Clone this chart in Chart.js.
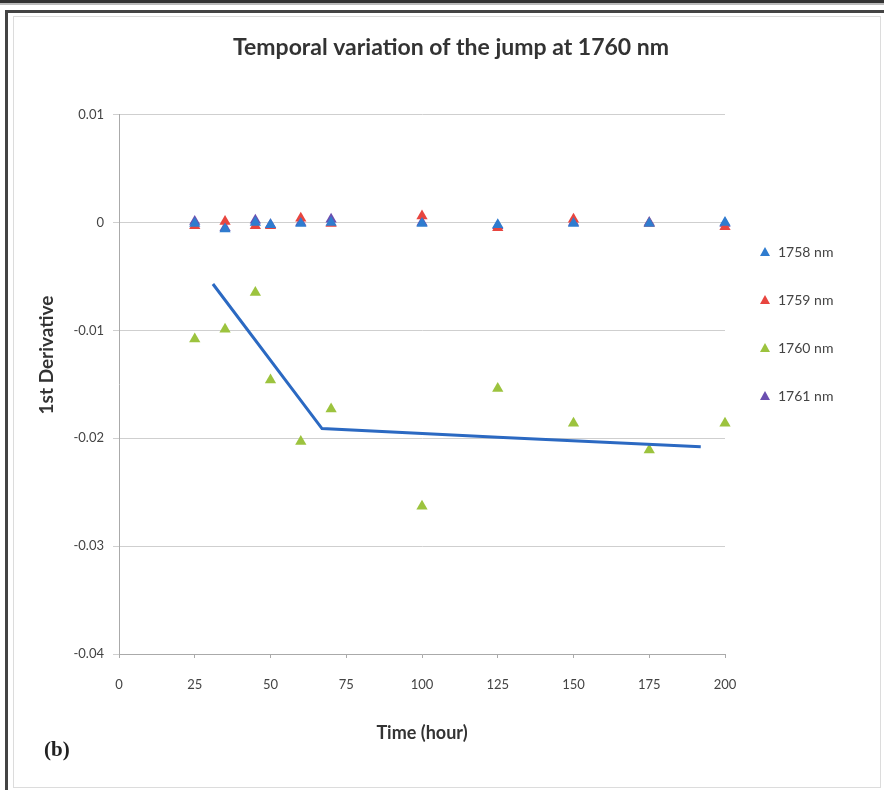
<!DOCTYPE html>
<html>
<head>
<meta charset="utf-8">
<script src="https://cdn.jsdelivr.net/npm/chart.js@4.4.0/dist/chart.umd.min.js"></script>
<style>
    body { margin: 0; background: #fff; }
    #wrap { position: relative; width: 884px; height: 790px; overflow: hidden; }
    .rule { position: absolute; }
    #tag { position: absolute; left: 44px; top: 738px; font: bold 21px 'Liberation Serif', serif; line-height: 22px; color: #222; }
</style>
</head>
<body>
<div id="wrap">
    <div class="rule" style="left:0;top:0;width:884px;height:3px;background:#333"></div>
    <div class="rule" style="left:0;top:3px;width:884px;height:2px;background:#bbb"></div>
    <div class="rule" style="left:5px;top:10px;width:879px;height:3px;background:#444"></div>
    <div class="rule" style="left:5px;top:10px;width:3px;height:780px;background:#444"></div>
    <div class="rule" style="left:13px;top:16px;width:866px;height:770px;border:1px solid #dcdcdc"></div>
    <canvas id="chart" width="884" height="790" style="position:absolute;left:0;top:0"></canvas>
    <div id="tag">(b)</div>
</div>
<script>
// Data
const times = [25, 35, 45, 50, 60, 70, 100, 125, 150, 175, 200];
const d1758 = [-0.0001, -0.0006, 0.0000, -0.0002, -0.0001, 0.0000, -0.0001, -0.0002, -0.0001, -0.0001, 0.0000];
const d1759 = [-0.0003, 0.0001, -0.0003, -0.0003, 0.0004, -0.0001, 0.0006, -0.0005, 0.0003, -0.0001, -0.0004];
const d1760 = [-0.0108, -0.0099, -0.0065, -0.0146, -0.0203, -0.0173, -0.0263, -0.0154, -0.0186, -0.0211, -0.0186];
const d1761 = [0.0001, -0.0005, 0.0002, -0.0002, 0.0000, 0.0003, 0.0000, -0.0003, 0.0000, 0.0000, -0.0001];

// Blue trend line
const trendX = [31, 67, 125, 192];
const trendY = [-0.0057, -0.0191, -0.0199, -0.0208];

const seriesNames = ['1758 nm', '1759 nm', '1760 nm', '1761 nm'];
const seriesColors = ['#2f7ccf', '#e8453f', '#9cc33e', '#6b4fb0'];

const FONT = 'Lato, "Open Sans", sans-serif';

function pts(xs, ys) {
    return xs.map((x, i) => ({ x: x, y: ys[i] }));
}

function scatterSet(i, values) {
    return {
        label: seriesNames[i],
        data: pts(times, values),
        showLine: false,
        clip: false,
        pointStyle: 'triangle',
        pointRadius: 6.5,
        backgroundColor: seriesColors[i],
        borderColor: seriesColors[i],
        borderWidth: 0
    };
}

// Legend to the right of the plot + rotated y title, placed like the original
const extras = {
    id: 'extras',
    afterDraw(chart) {
        const ctx = chart.ctx;
        const x0 = 765, y0 = 252, step = 48;
        ctx.save();
        chart.data.datasets.forEach((ds) => {
            if (!ds.legend) return;
            const y = y0 + (ds.legend - 1) * step;
            ctx.fillStyle = ds.backgroundColor;
            ctx.beginPath();
            ctx.moveTo(x0, y - 5);
            ctx.lineTo(x0 + 5, y + 4);
            ctx.lineTo(x0 - 5, y + 4);
            ctx.closePath();
            ctx.fill();
            ctx.fillStyle = '#444';
            ctx.font = '14px ' + FONT;
            ctx.textBaseline = 'middle';
            ctx.fillText(ds.label, x0 + 13, y);
        });

        ctx.translate(47, 355);
        ctx.rotate(-Math.PI / 2);
        ctx.fillStyle = '#333';
        ctx.font = 'bold 19px ' + FONT;
        ctx.textAlign = 'center';
        ctx.textBaseline = 'middle';
        ctx.fillText('1st Derivative', 0, 0);
        ctx.restore();
    }
};

const sets = [
    {
        label: 'trend',
        data: pts(trendX, trendY),
        showLine: true,
        pointRadius: 0,
        borderColor: '#2b69c2',
        borderWidth: 3,
        fill: false,
        tension: 0
    },
    scatterSet(0, d1758),
    scatterSet(1, d1759),
    scatterSet(2, d1760),
    scatterSet(3, d1761)
];
sets[1].legend = 1;
sets[2].legend = 2;
sets[3].legend = 3;
sets[4].legend = 4;

new Chart(document.getElementById('chart').getContext('2d'), {
    type: 'scatter',
    data: { datasets: sets },
    plugins: [extras],
    options: {
        responsive: false,
        animation: false,
        events: [],
        layout: { padding: { left: 18, right: 0, top: 0, bottom: 40 } },
        plugins: {
            legend: { display: false },
            tooltip: { enabled: false },
            title: {
                display: true,
                text: 'Temporal variation of the jump at 1760 nm',
                color: '#333',
                font: { family: FONT, size: 23, weight: 'bold' },
                padding: { top: 34, bottom: 53 }
            }
        },
        scales: {
            x: {
                type: 'linear',
                min: 0,
                max: 200,
                afterFit: (s) => { s.height = 96; },
                ticks: {
                    stepSize: 25,
                    color: '#444',
                    font: { family: FONT, size: 13 },
                    padding: 19,
                    maxRotation: 0
                },
                grid: { drawOnChartArea: false, tickLength: 4, color: '#aaa' },
                border: { color: '#aaa' },
                title: {
                    display: true,
                    text: 'Time (hour)',
                    color: '#333',
                    font: { family: FONT, size: 18, weight: 'bold' },
                    padding: { top: 0, bottom: 6 }
                }
            },
            y: {
                min: -0.04,
                max: 0.01,
                afterFit: (s) => { s.width = 101; },
                ticks: {
                    stepSize: 0.01,
                    color: '#444',
                    font: { family: FONT, size: 13 },
                    padding: 9,
                    callback: (v) => {
                        const r = Math.round(v * 100) / 100;
                        return r === 0 ? '0' : r.toFixed(2);
                    }
                },
                grid: { color: '#cfcfcf', tickLength: 6 },
                border: { color: '#aaa' }
            },
            side: {
                type: 'linear',
                position: 'right',
                display: true,
                afterFit: (s) => { s.width = 159; },
                ticks: { display: false },
                grid: { display: false },
                border: { display: false }
            }
        }
    }
});
</script>
</body>
</html>
